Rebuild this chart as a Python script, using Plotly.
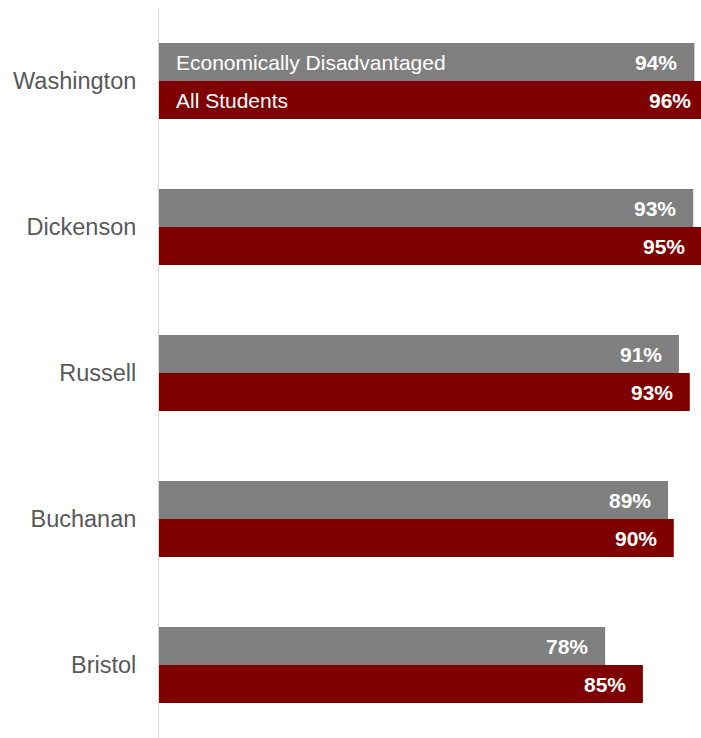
import plotly.graph_objects as go

categories = ["Washington", "Dickenson", "Russell", "Buchanan", "Bristol"]
econ_values = [93.6, 93.4, 90.9, 89.0, 78.0]
all_values = [96.0, 95.0, 92.8, 90.0, 84.6]
econ_labels = ["94%", "93%", "91%", "89%", "78%"]
all_labels = ["96%", "95%", "93%", "90%", "85%"]
series_names = ["Economically Disadvantaged", "All Students"]

GRAY = "#7F7F7F"
RED = "#7F0000"
FONT = "Liberation Sans, Arial, sans-serif"
XMAX = 94.76
HALF = 19  # half bar thickness in px

fig = go.Figure()
fig.add_trace(go.Bar(y=categories, x=econ_values, orientation="h", name=series_names[0],
                     marker=dict(color=GRAY, line=dict(width=0)), hoverinfo="skip"))
fig.add_trace(go.Bar(y=categories, x=all_values, orientation="h", name=series_names[1],
                     marker=dict(color=RED, line=dict(width=0)), hoverinfo="skip"))

annotations = []
for cat, v, lab in zip(categories, econ_values, econ_labels):
    annotations.append(dict(x=v / XMAX, xref="paper", y=cat, yref="y", text=lab,
                            xanchor="right", yanchor="middle", xshift=-15, yshift=HALF,
                            showarrow=False,
                            font=dict(family=FONT, size=21, color="white", weight=700)))
for cat, v, lab in zip(categories, all_values, all_labels):
    annotations.append(dict(x=v / XMAX, xref="paper", y=cat, yref="y", text=lab,
                            xanchor="right", yanchor="middle", xshift=-15, yshift=-HALF,
                            showarrow=False,
                            font=dict(family=FONT, size=21, color="white", weight=700)))
for name, shift in zip(series_names, [HALF, -HALF]):
    annotations.append(dict(x=0, xref="paper", y=categories[0], yref="y", text=name,
                            xanchor="left", yanchor="middle", xshift=15, yshift=shift,
                            showarrow=False,
                            font=dict(family=FONT, size=21, color="white")))

fig.update_layout(
    width=701, height=738,
    margin=dict(l=159, r=0, t=8, b=0),
    paper_bgcolor="white", plot_bgcolor="white",
    barmode="group", bargap=0.48, bargroupgap=0,
    showlegend=False,
    annotations=annotations,
    xaxis=dict(range=[0, XMAX], showgrid=False, zeroline=False, showticklabels=False,
               showline=False, fixedrange=True),
    yaxis=dict(range=[4.5, -0.5], showgrid=False, zeroline=False,
               showline=True, linecolor="#D9D9D9", linewidth=1,
               ticks="", ticklabelstandoff=17,
               tickfont=dict(family=FONT, size=23.5, color="#595959")),
)

fig.write_html(
    "out.html",
    config={"displayModeBar": False},
    post_script="document.body.style.margin='0';document.body.style.overflow='hidden';",
)
